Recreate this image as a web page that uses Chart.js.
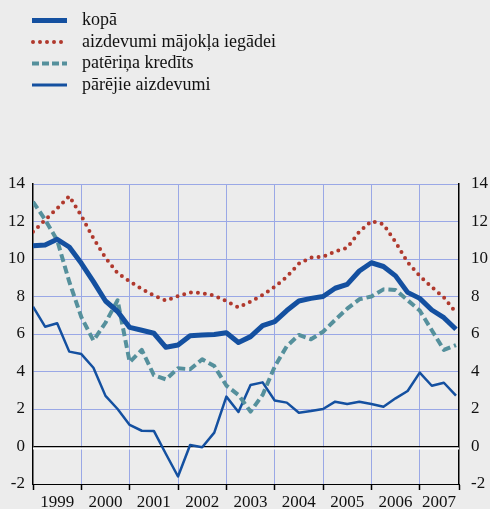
<!DOCTYPE html>
<html>
<head>
<meta charset="utf-8">
<script src="https://cdn.jsdelivr.net/npm/chart.js@4.4.1/dist/chart.umd.min.js"></script>
<style>
  html,body{margin:0;padding:0;background:#ececec;}
  #wrap{width:490px;height:509px;}
</style>
</head>
<body>
<div id="wrap"><canvas id="ch" width="490" height="509"></canvas></div>
<script>
// quarterly data, 1999 Q1 .. 2007 Q4 (% yoy)
const years = ['1999','2000','2001','2002','2003','2004','2005','2006','2007'];

const kopa = [10.7,10.75,11.05,10.64,9.77,8.79,7.76,7.2,6.35,6.2,6.04,5.29,
              5.41,5.91,5.95,5.97,6.07,5.55,5.86,6.45,6.66,7.25,7.76,7.9,
              8.0,8.44,8.65,9.36,9.8,9.6,9.1,8.22,7.9,7.28,6.87,6.25];
const majoklis = [11.45,12.08,12.7,13.35,12.3,11.1,10.07,9.25,8.8,8.4,8.05,7.78,
                  8.02,8.22,8.18,8.05,7.75,7.42,7.72,8.08,8.52,9.05,9.75,10.08,
                  10.12,10.4,10.6,11.45,12.02,11.85,10.9,9.82,9.1,8.5,7.95,7.15];
const pateriņš = [13.05,12.1,11.0,8.79,6.9,5.65,6.6,7.8,4.5,5.15,3.81,3.58,
                  4.17,4.12,4.65,4.29,3.25,2.75,1.86,2.75,4.26,5.35,5.95,5.72,
                  6.12,6.75,7.35,7.85,8.0,8.38,8.35,7.8,7.25,6.2,5.15,5.41];
const parejie = [7.46,6.39,6.57,5.06,4.93,4.2,2.7,2.0,1.15,0.84,0.83,-0.4,
                 -1.6,0.08,-0.04,0.74,2.66,1.84,3.28,3.42,2.45,2.34,1.8,1.89,
                 2.0,2.39,2.27,2.39,2.27,2.12,2.57,2.96,3.94,3.24,3.4,2.71];

const yTicks = [-2,0,2,4,6,8,10,12,14];

const BLUE = '#1450a0', RED = '#b0392d', TEAL = '#55909c', GRID = '#9aa8e6';
const FONT = "'Liberation Serif', 'DejaVu Serif', serif";
const XMAX = 35.25;
const TR = 'rgba(0,0,0,0)';

const pts = arr => arr.map((v,i)=>({x:i,y:v}));

function yearLabel(v){
  if (v === 33.6) return years[8];
  if (v % 4 === 2) return years[(v-2)/4];
  return '';
}

// legend rows + background + zero line shadow
const deco = {
  id:'deco',
  beforeDraw(c){
    const g=c.ctx; g.save(); g.fillStyle='#ececec'; g.fillRect(0,0,c.width,c.height); g.restore();
  },
  beforeDatasetsDraw(c){
    const g=c.ctx, y=c.scales.y.getPixelForValue(0), a=c.chartArea;
    g.save(); g.strokeStyle='#fff'; g.lineWidth=2;
    g.beginPath(); g.moveTo(a.left,y+2); g.lineTo(a.right,y+2); g.stroke();
    g.restore();
  },
  afterDraw(c){
    const g=c.ctx;
    g.save();
    c.data.datasets.forEach((ds,i)=>{
      const y = 20.5 + i*21.5;
      g.strokeStyle = ds.borderColor;
      g.lineWidth = ds.legendWidth;
      g.lineCap = ds.borderCapStyle || 'butt';
      g.setLineDash(ds.legendDash || ds.borderDash || []);
      g.beginPath(); g.moveTo(ds.borderCapStyle==='round'?33:32,y); g.lineTo(67,y); g.stroke();
      g.setLineDash([]);
      g.fillStyle='#111'; g.font='18px '+FONT; g.textBaseline='middle'; g.textAlign='left';
      g.fillText(ds.label,82,y);
    });
    g.restore();
  }
};

new Chart(document.getElementById('ch'),{
  type:'line',
  data:{datasets:[
    {label:'kopā', data:pts(kopa), borderColor:BLUE, borderWidth:5, legendWidth:5},
    {label:'aizdevumi mājokļa iegādei', data:pts(majoklis), borderColor:RED, borderWidth:4,
      borderDash:[0,7], borderCapStyle:'round', legendWidth:4, legendDash:[0,7]},
    {label:'patēriņa kredīts', data:pts(pateriņš), borderColor:TEAL, borderWidth:4,
      borderDash:[8,4], legendWidth:4, legendDash:[7,3]},
    {label:'pārējie aizdevumi', data:pts(parejie), borderColor:BLUE, borderWidth:2.5, legendWidth:3}
  ]},
  options:{
    responsive:false, animation:false, devicePixelRatio:1,
    layout:{padding:{top:184,left:0,right:0,bottom:0}},
    elements:{point:{radius:0}, line:{tension:0, borderJoinStyle:'round'}},
    plugins:{legend:{display:false}, tooltip:{enabled:false}},
    scales:{
      x:{type:'linear', min:0, max:XMAX,
        afterBuildTicks(s){
          const t=[]; for(let v=0; v<=32; v+=2) t.push({value:v});
          t.push({value:33.6},{value:XMAX}); s.ticks=t;
        },
        afterFit(s){ s.height=25; },
        border:{color:'#000', width:1},
        grid:{
          color:c=> (c.tick && c.tick.value%4===0 && c.tick.value>0) ? GRID : TR,
          tickColor:c=> (c.tick && (c.tick.value%4===0 || c.tick.value===XMAX)) ? '#000' : TR,
          tickLength:6, lineWidth:1, tickWidth:1.5
        },
        ticks:{autoSkip:false, maxRotation:0, padding:2, color:'#111',
          font:{family:FONT, size:17}, callback:v=>yearLabel(v)}
      },
      y:{position:'left', min:-2, max:14,
        afterBuildTicks(s){ s.ticks=yTicks.map(v=>({value:v})); },
        afterFit(s){ s.width=33; },
        border:{color:'#000', width:1.5},
        grid:{drawTicks:false,
          color:c=> c.tick.value===0 ? '#000' : (c.tick.value===-2 ? TR : GRID),
          lineWidth:c=> c.tick.value===0 ? 1.5 : 1},
        ticks:{padding:8, color:'#111', font:{family:FONT, size:17}}
      },
      y2:{position:'right', min:-2, max:14,
        afterBuildTicks(s){ s.ticks=yTicks.map(v=>({value:v})); },
        afterFit(s){ s.width=31; },
        border:{color:'#000', width:1.5},
        grid:{display:false, drawTicks:false},
        ticks:{padding:12, color:'#111', font:{family:FONT, size:17}}
      }
    }
  },
  plugins:[deco]
});
</script>
</body>
</html>
